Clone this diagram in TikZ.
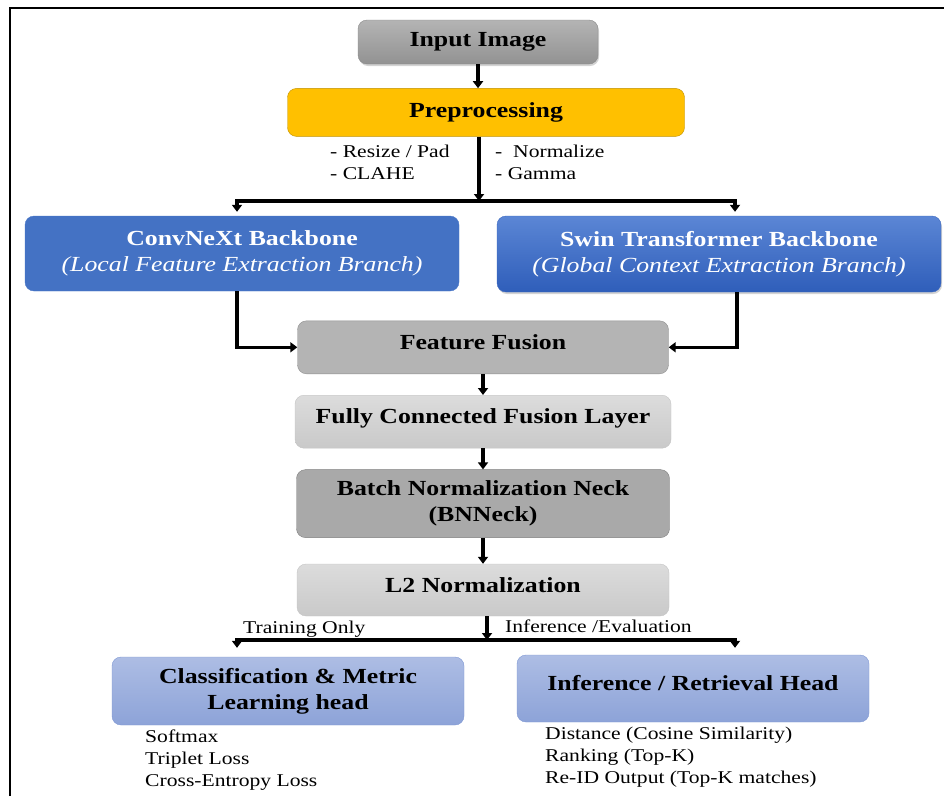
\documentclass[tikz,border=0pt]{standalone}
\usepackage{fontspec}
\setmainfont{Liberation Serif}[FakeStretch=1.2]
\usetikzlibrary{arrows.meta, positioning, shadows}

\definecolor{inptop}{HTML}{B4B4B4}
\definecolor{inpbot}{HTML}{929292}
\definecolor{inpline}{HTML}{8A8A8A}
\definecolor{prefill}{HTML}{FFC000}
\definecolor{preline}{HTML}{BF9000}
\definecolor{convfill}{HTML}{4472C4}
\definecolor{convline}{HTML}{4A78C8}
\definecolor{swintop}{HTML}{5B86D5}
\definecolor{swinbot}{HTML}{2F5EBA}
\definecolor{swinline}{HTML}{3B68C0}
\definecolor{fusefill}{HTML}{B4B4B4}
\definecolor{fuseline}{HTML}{8F8F8F}
\definecolor{lighttop}{HTML}{DCDCDC}
\definecolor{lightbot}{HTML}{C9C9C9}
\definecolor{lightline}{HTML}{C4C4C4}
\definecolor{neckfill}{HTML}{A9A9A9}
\definecolor{neckline}{HTML}{7F7F7F}
\definecolor{headtop}{HTML}{ADBDE4}
\definecolor{headbot}{HTML}{8DA3D8}
\definecolor{headline}{HTML}{7E97D3}

\newcommand{\boxfont}{\fontsize{21.5}{26}\selectfont\bfseries}
\newcommand{\notefont}{\fontsize{18}{22}\selectfont}

\begin{document}
\begin{tikzpicture}[
    x=1pt, y=-1pt,
    box/.style = {rectangle, rounded corners=9pt, inner sep=0pt, align=center, font=\boxfont},
    raised/.style = {text height=15pt, text depth=11pt},
    graybox/.style = {box, top color=lighttop, bottom color=lightbot, draw=lightline},
    headbox/.style = {box, top color=headtop, bottom color=headbot, draw=headline, minimum width=352pt},
    note/.style = {inner sep=0pt, anchor=west, font=\notefont, text height=13pt, text depth=4pt},
    arr/.style = {-{Triangle[length=7pt 0 0, width=10pt 0 0]}, line width=3.4pt}
]
    \useasboundingbox (0,0) rectangle (944,796);
    \draw[line width=2pt] (10,796) -- (10,8) -- (944,8);

    % main chain
    \node[box, top color=inptop, bottom color=inpbot, draw=inpline,
          drop shadow={opacity=0.35, shadow xshift=1pt, shadow yshift=-2pt},
          minimum width=240pt, minimum height=44pt] (inp) at (478,42) {Input Image};
    \node[box, fill=prefill, draw=preline, minimum width=397pt, minimum height=48pt,
          below=24pt of inp, xshift=8pt] (pre) {Preprocessing};

    \node[box, raised, fill=fusefill, draw=fuseline, minimum width=371pt, minimum height=53pt,
          below=184pt of pre, xshift=-3pt] (ff) {Feature Fusion};
    \node[graybox, raised, minimum width=376pt, minimum height=53pt, below=21pt of ff] (fc) {Fully Connected Fusion Layer};
    \node[box, fill=neckfill, draw=neckline, minimum width=373pt, minimum height=68pt,
          below=21pt of fc] (bn) {Batch Normalization Neck\\(BNNeck)};
    \node[graybox, raised, minimum width=372pt, minimum height=52pt, below=26pt of bn] (l2) {L2 Normalization};

    % backbones
    \node[box, text=white, fill=convfill, draw=convline, minimum width=434pt, minimum height=75pt]
        (conv) at (242,253.5) {ConvNeXt Backbone\\{\mdseries\itshape (Local Feature Extraction Branch)}};
    \node[box, text=white, top color=swintop, bottom color=swinbot, draw=swinline,
          drop shadow={opacity=0.35, shadow xshift=1pt, shadow yshift=-2pt},
          minimum width=444pt, minimum height=76pt]
        (swin) at (719,254) {Swin Transformer Backbone\\{\mdseries\itshape (Global Context Extraction Branch)}};

    % heads
    \node[headbox, minimum height=68pt] (cls) at (288,691) {Classification \& Metric\\Learning head};
    \node[headbox, raised, minimum height=67pt] (inf) at (693,688.5) {Inference / Retrieval Head};

    % notes
    \node[note] (rp) at (330,153) {- Resize / Pad};
    \node[note] (cl) at (330,175) {- CLAHE};
    \node[note] (nm) at (495,153) {- \ Normalize};
    \node[note] (gm) at (495,175) {- Gamma};

    \node[note] (tro) at (243,629) {Training Only};
    \node[note] (iev) at (505,628) {Inference /Evaluation};

    \node[note] (sm) at (145,738) {Softmax};
    \node[note] (tl) at (145,760) {Triplet Loss};
    \node[note] (ce) at (145,782) {Cross-Entropy Loss};

    \node[note] (ds) at (545,735) {Distance (Cosine Similarity)};
    \node[note] (rk) at (545,757) {Ranking (Top-K)};
    \node[note] (ro) at (545,779) {Re-ID Output (Top-K matches)};

    % connectors
    \coordinate (split1) at (479,201);
    \coordinate (split2) at (487,640);

    \draw[arr] (inp.south) -- (inp.south |- pre.north);
    \draw[arr] (pre.south -| split1) -- (split1);
    \draw[arr, shorten >=4pt] (split1) -| ([xshift=-5pt]conv.north);
    \draw[arr, shorten >=4pt] (split1) -| ([xshift=16pt]swin.north);

    \draw[arr] ([xshift=-5pt]conv.south) |- (ff.west);
    \draw[arr] ([xshift=18pt]swin.south) |- (ff.east);

    \draw[arr] (ff.south) -- (ff.south |- fc.north);
    \draw[arr] (fc.south) -- (fc.south |- bn.north);
    \draw[arr] (bn.south) -- (bn.south |- l2.north);

    \draw[arr] (l2.south -| split2) -- (split2);
    \draw[arr, shorten >=9pt] (split2) -| ([xshift=-51pt]cls.north);
    \draw[arr, shorten >=7pt] (split2) -| ([xshift=42pt]inf.north);
\end{tikzpicture}
\end{document}
